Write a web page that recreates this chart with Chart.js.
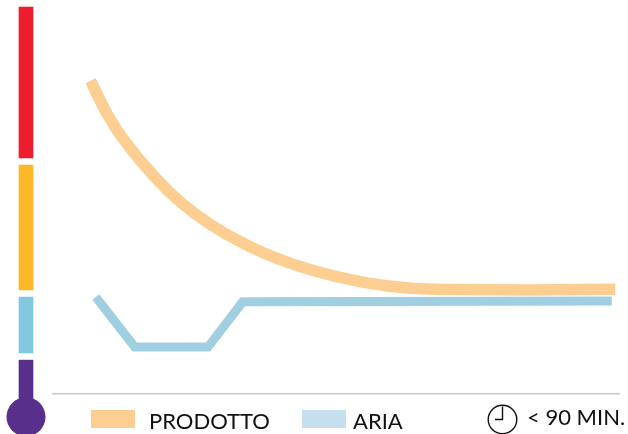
<!DOCTYPE html>
<html lang="it">
<head>
<meta charset="utf-8">
<title>Prodotto / Aria</title>
<script src="https://cdn.jsdelivr.net/npm/chart.js@4"></script>
<style>
    html, body { margin: 0; padding: 0; background: #fff; }
    #page { position: relative; width: 628px; height: 434px; overflow: hidden; font-family: Lato, sans-serif; color: #111; }
    canvas { position: absolute; top: 0; }
    #thermo { left: 0; }
    #curves { left: 52px; }
    .swatch { position: absolute; top: 410px; width: 44px; height: 18px; }
    .label { position: absolute; top: 408px; font-size: 22px; line-height: 26px; white-space: nowrap; }
    #clock { position: absolute; left: 487px; top: 404px; }
</style>
</head>
<body>
<div id="page">
    <canvas id="thermo" width="52" height="434"></canvas>
    <canvas id="curves" width="568" height="434"></canvas>

    <div class="swatch" id="swatch-0" style="left: 91px"></div>
    <div class="label" id="label-0" style="left: 149px"></div>
    <div class="swatch" id="swatch-1" style="left: 302px"></div>
    <div class="label" id="label-1" style="left: 353px"></div>

    <svg id="clock" width="31" height="31" viewBox="0 0 31 31">
        <circle cx="15.5" cy="15.5" r="14.3" fill="none" stroke="#111" stroke-width="1.4"/>
        <path d="M15.5 2.5V16M8 15.5H16" fill="none" stroke="#111" stroke-width="1.4"/>
    </svg>
    <div class="label" id="duration" style="left: 527px; top: 404px"></div>
</div>

<script>
// time in minutes, level as a percentage of the thermometer height
const seriesNames = ['PRODOTTO', 'ARIA'];
const durationText = '< 90 MIN.';

const prodottoMin = [0.1, 2.9, 6.3, 15.5, 27.0, 43.0, 60.2, 75.7, 90.4];
const prodottoVal = [79.5, 71.2, 63.6, 48.8, 37.8, 29.6, 26.5, 26.4, 26.6];

const ariaMin = [1.0, 7.7, 20.3, 26.3, 89.8];
const ariaVal = [24.6, 11.9, 11.9, 23.4, 23.6];

const bandLow = [59.9, 26.4, 10.4, -5.8];
const bandHigh = [98.2, 58.1, 24.6, 8.6];
const bandColors = ['#ED1C2E', '#FDB827', '#84C8E0', '#592F8C'];
const bulbLevel = [-5.8];

const lineColors = ['#FDCE91', '#A0CFE1'];
const swatchColors = ['#FDCE91', '#C6DFEF'];

const levelMin = -10.15;
const levelMax = 100;

function toPoints(xs, ys) {
    return xs.map((x, i) => ({ x: x, y: ys[i] }));
}

// thermometer on the left: one floating bar per band, with a round bulb at the foot
new Chart(document.getElementById('thermo'), {
    data: {
        labels: ['T'],
        datasets: bandColors.map((color, i) => ({
            type: 'bar',
            data: [[bandLow[i], bandHigh[i]]],
            backgroundColor: color,
            barThickness: 14,
            grouped: false
        })).concat([{
            type: 'line',
            data: bulbLevel,
            showLine: false,
            pointRadius: 19.5,
            pointBackgroundColor: bandColors[3],
            pointBorderWidth: 0,
            clip: false
        }])
    },
    options: {
        responsive: false,
        animation: false,
        layout: { padding: 0, autoPadding: false },
        plugins: { legend: { display: false }, tooltip: { enabled: false } },
        scales: {
            x: { display: false },
            y: { display: false, min: levelMin, max: levelMax }
        }
    }
});

// main chart: the two cooling curves over the baseline
new Chart(document.getElementById('curves'), {
    type: 'line',
    data: {
        datasets: [
            {
                label: seriesNames[0],
                data: toPoints(prodottoMin, prodottoVal),
                borderColor: lineColors[0],
                borderWidth: 11.5,
                cubicInterpolationMode: 'monotone',
                pointRadius: 0,
                borderCapStyle: 'butt'
            },
            {
                label: seriesNames[1],
                data: toPoints(ariaMin, ariaVal),
                borderColor: lineColors[1],
                borderWidth: 9,
                tension: 0,
                pointRadius: 0,
                borderCapStyle: 'butt',
                borderJoinStyle: 'miter'
            }
        ]
    },
    options: {
        responsive: false,
        animation: false,
        layout: { padding: 0, autoPadding: false },
        plugins: { legend: { display: false }, tooltip: { enabled: false } },
        scales: {
            x: { type: 'linear', display: false, min: -6.54, max: 91.22 },
            y: {
                min: levelMin,
                max: levelMax,
                border: { display: false },
                afterBuildTicks: function(axis) { axis.ticks = [{ value: 0 }]; },
                afterFit: function(axis) { axis.width = 0; },
                ticks: { display: false },
                grid: { color: '#C8C8C8', lineWidth: 1.5, drawTicks: false }
            }
        }
    }
});

// legend row below the chart
seriesNames.forEach(function(name, i) {
    document.getElementById('swatch-' + i).style.background = swatchColors[i];
    document.getElementById('label-' + i).textContent = name;
});
document.getElementById('duration').textContent = durationText;
</script>
</body>
</html>
